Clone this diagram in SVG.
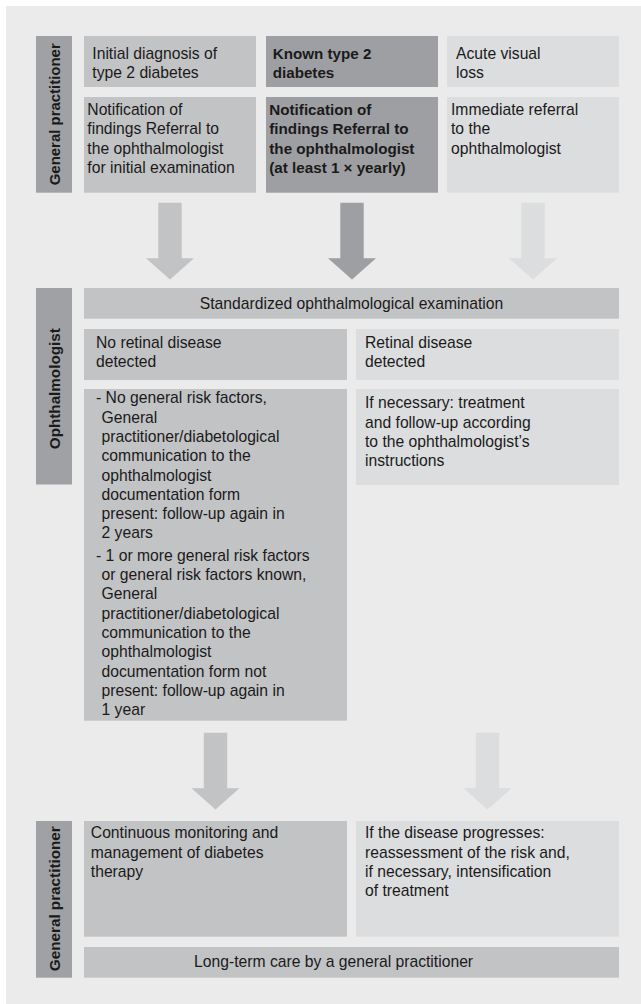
<svg xmlns="http://www.w3.org/2000/svg" width="641" height="1004" viewBox="0 0 641 1004">
<style>
.t{font-family:"Liberation Sans",Arial,sans-serif;font-size:15.7px;fill:#1a1a1a}
.b{font-family:"Liberation Sans",Arial,sans-serif;font-size:15.2px;font-weight:bold;fill:#1a1a1a}
.lab{font-family:"Liberation Sans",Arial,sans-serif;font-size:15.5px;font-weight:bold;fill:#1a1a1a;text-anchor:middle}
.mid{fill:#c2c3c5}
.dark{fill:#9e9fa3}
.light{fill:#dcdddf}
.bar{fill:#a0a1a5}
</style>
<defs>
<path id="arrT" d="M-11.7,0 H11.7 V55.6 H24 L0,76.8 L-24,55.6 H-11.7 Z"/>
</defs>
<rect x="6" y="6" width="635" height="998" fill="#ebebeb"/>

<g id="lane-gp-top">
<rect class="bar" x="36" y="36" width="36" height="156.7"/>
<text class="lab" transform="translate(59.8,114.3) rotate(-90)" textLength="142" lengthAdjust="spacingAndGlyphs">General practitioner</text>
</g>
<g id="lane-ophth">
<rect class="bar" x="36" y="288" width="36" height="196.5"/>
<text class="lab" transform="translate(59.6,388.7) rotate(-90)" textLength="121" lengthAdjust="spacingAndGlyphs">Ophthalmologist</text>
</g>
<g id="lane-gp-bottom">
<rect class="bar" x="36" y="821" width="36" height="156.7"/>
<text class="lab" transform="translate(59.8,898.7) rotate(-90)" textLength="145" lengthAdjust="spacingAndGlyphs">General practitioner</text>
</g>

<g id="n-initial">
<rect class="mid" x="84" y="36" width="172" height="51"/>
<text class="t" x="92.3" y="59">Initial diagnosis of</text>
<text class="t" x="92.3" y="77.5">type 2 diabetes</text>
</g>
<g id="n-known">
<rect class="dark" x="266" y="36" width="172" height="51"/>
<text class="b" x="272.7" y="59">Known type 2</text>
<text class="b" x="272.7" y="77.5">diabetes</text>
</g>
<g id="n-acute">
<rect class="light" x="447" y="36" width="172" height="51"/>
<text class="t" x="456" y="59">Acute visual</text>
<text class="t" x="456" y="77.5">loss</text>
</g>
<g id="n-notif1">
<rect class="mid" x="84" y="97" width="172" height="95.7"/>
<text class="t" x="87.3" y="115">Notification of</text>
<text class="t" x="87.3" y="134.3">findings Referral to</text>
<text class="t" x="87.3" y="153.6">the ophthalmologist</text>
<text class="t" x="87.3" y="172.9">for initial examination</text>
</g>
<g id="n-notif2">
<rect class="dark" x="266" y="97" width="172" height="95.7"/>
<text class="b" x="269.3" y="115">Notification of</text>
<text class="b" x="269.3" y="134.3">findings Referral to</text>
<text class="b" x="269.3" y="153.6">the ophthalmologist</text>
<text class="b" x="269.3" y="172.9">(at least 1 × yearly)</text>
</g>
<g id="n-immediate">
<rect class="light" x="447" y="97" width="172" height="95.7"/>
<text class="t" x="451" y="115">Immediate referral</text>
<text class="t" x="451" y="134.3">to the</text>
<text class="t" x="451" y="153.6">ophthalmologist</text>
</g>

<g id="connectors">
<use href="#arrT" class="mid" transform="translate(170,202.7)"/>
<use href="#arrT" class="dark" transform="translate(352,202.7)"/>
<use href="#arrT" class="light" transform="translate(533,202.7)"/>
<use href="#arrT" class="mid" transform="translate(215.5,732.7)"/>
<use href="#arrT" class="light" transform="translate(487.5,732.7)"/>
</g>

<g id="n-standard">
<rect class="mid" x="84" y="288" width="535" height="30.7"/>
<text class="t" x="351.5" y="308.5" text-anchor="middle">Standardized ophthalmological examination</text>
</g>
<g id="n-noretinal">
<rect class="mid" x="84" y="329" width="263" height="51"/>
<text class="t" x="96" y="348.3">No retinal disease</text>
<text class="t" x="96" y="367.3">detected</text>
</g>
<g id="n-retinal">
<rect class="light" x="356" y="329" width="263" height="51"/>
<text class="t" x="365" y="348.3">Retinal disease</text>
<text class="t" x="365" y="367.3">detected</text>
</g>
<g id="n-followup">
<rect class="mid" x="84" y="389" width="263" height="331.7"/>
<text class="t" x="96" y="403.3">- No general risk factors,</text>
<text class="t" x="101.5" y="422.6">General</text>
<text class="t" x="101.5" y="441.9">practitioner/diabetological</text>
<text class="t" x="101.5" y="461.2">communication to the</text>
<text class="t" x="101.5" y="480.5">ophthalmologist</text>
<text class="t" x="101.5" y="499.8">documentation form</text>
<text class="t" x="101.5" y="519.1">present: follow-up again in</text>
<text class="t" x="101.5" y="538.4">2 years</text>
<text class="t" x="96" y="560.8">- 1 or more general risk factors</text>
<text class="t" x="101.5" y="580.1">or general risk factors known,</text>
<text class="t" x="101.5" y="599.4">General</text>
<text class="t" x="101.5" y="618.7">practitioner/diabetological</text>
<text class="t" x="101.5" y="638">communication to the</text>
<text class="t" x="101.5" y="657.3">ophthalmologist</text>
<text class="t" x="101.5" y="676.6">documentation form not</text>
<text class="t" x="101.5" y="695.9">present: follow-up again in</text>
<text class="t" x="101.5" y="715.2">1 year</text>
</g>
<g id="n-treatment">
<rect class="light" x="356" y="389" width="263" height="96"/>
<text class="t" x="365" y="408.3">If necessary: treatment</text>
<text class="t" x="365" y="427.6">and follow-up according</text>
<text class="t" x="365" y="446.9">to the ophthalmologist’s</text>
<text class="t" x="365" y="466.2">instructions</text>
</g>

<g id="n-monitoring">
<rect class="mid" x="84" y="821" width="263" height="115.7"/>
<text class="t" x="90.8" y="838.3">Continuous monitoring and</text>
<text class="t" x="90.8" y="857.6">management of diabetes</text>
<text class="t" x="90.8" y="876.9">therapy</text>
</g>
<g id="n-progress">
<rect class="light" x="356" y="821" width="263" height="115.7"/>
<text class="t" x="365" y="838.3">If the disease progresses:</text>
<text class="t" x="365" y="857.6">reassessment of the risk and,</text>
<text class="t" x="365" y="876.9">if necessary, intensification</text>
<text class="t" x="365" y="896.2">of treatment</text>
</g>
<g id="n-longterm">
<rect class="mid" x="84" y="947" width="535" height="30.7"/>
<text class="t" x="333.6" y="966.7" text-anchor="middle">Long-term care by a general practitioner</text>
</g>
</svg>
